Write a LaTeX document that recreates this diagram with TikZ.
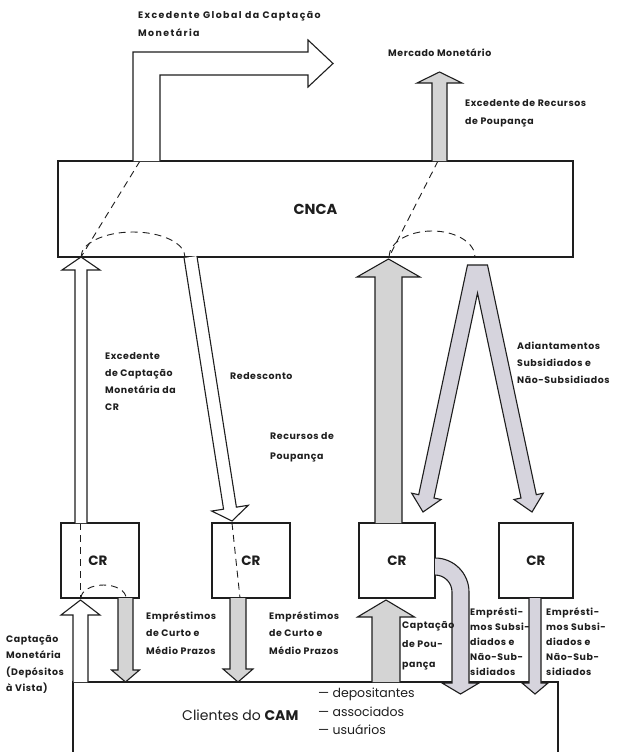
\documentclass[tikz,border=0pt]{standalone}
\usepackage{fontspec}
\setmainfont{Poppins}
\newfontfamily\lbl{Poppins}[LetterSpace=6]
\newfontfamily\lblw{Poppins}[LetterSpace=15]
\newfontfamily\hdr{Poppins}
\usetikzlibrary{calc}
\definecolor{gfill}{RGB}{214,212,221}
\definecolor{sfill}{RGB}{212,212,212}
\definecolor{ink}{RGB}{30,30,30}
\tikzset{
  blk/.style={line width=1.1pt, draw=ink, line join=miter},
  dsh/.style={line width=0.9pt, draw=ink, dash pattern=on 7pt off 5pt},
  lab/.style={font=\lbl\bfseries\fontsize{9.4}{#1}\selectfont, align=left, anchor=north west, inner sep=0pt, text=ink},
  lab/.default=17,
  labw/.style={font=\lblw\bfseries\fontsize{9.4}{#1}\selectfont, align=left, anchor=north west, inner sep=0pt, text=ink},
  labw/.default=17,
  crbox/.style={draw=ink, line width=1.1pt, minimum width=#1, minimum height=75pt, inner sep=0pt, font=\hdr\bfseries\fontsize{13.5}{15}\selectfont, text=ink},
}
% block arrow: start, tip, shaft half width, head half width, head length, fill
\newcommand\barrow[6]{%
  \path (#2) coordinate (bT) ($(#2)!#5!(#1)$) coordinate (bH);
  \path ($(bH)!#3!90:(bT)$) coordinate (bH1) ($(bH)!#3!-90:(bT)$) coordinate (bH2)
        ($(bH)!#4!90:(bT)$) coordinate (bF1) ($(bH)!#4!-90:(bT)$) coordinate (bF2)
        ($(#1)!#3!-90:(bT)$) coordinate (bS1) ($(#1)!#3!90:(bT)$) coordinate (bS2);
  \fill[#6] (bS2) -- (bH1) -- (bF1) -- (bT) -- (bF2) -- (bH2) -- (bS1) -- cycle;
  \draw[blk] (bS2) -- (bH1) -- (bF1) -- (bT) -- (bF2) -- (bH2) -- (bS1);
}
\begin{document}
\begin{tikzpicture}[x=1pt,y=-1pt]
\useasboundingbox (0,0) rectangle (616,752);
\fill[white] (0,0) rectangle (616,752);

% ---------- boxes ----------
\node[draw=ink, line width=1.1pt, minimum width=515pt, minimum height=96pt, inner sep=0pt,
      font=\hdr\bfseries\fontsize{14.5}{16}\selectfont, text=ink] (cnca) at (315.5,209) {CNCA};
\node[crbox=78pt] (cr1) at (100,560.5) {\hspace*{-4pt}CR};
\node[crbox=78pt] (cr2) at (251,560.5) {CR};
\node[crbox=76pt] (cr3) at (397,560.5) {CR};
\node[crbox=74pt] (cr4) at (536,560.5) {CR};
\draw[blk] (73,753) -- (73,682) coordinate (camTL) -- (558,682) coordinate (camTR) -- (558,753);
\node[font=\hdr\fontsize{14}{16}\selectfont, text=ink, anchor=mid west, inner sep=0pt] (cam) at (182,718) {Clientes do \textbf{CAM}};
\node[font=\hdr\fontsize{12.5}{18.5}\selectfont, text=ink, anchor=north west, inner sep=0pt, align=left] (memb) at (318,688)
  {— depositantes\\— associados\\— usuários};

% ---------- dashed construction lines ----------
\draw[dsh] (140,161) -- (81,257);
\draw[dsh] (81,257) arc[start angle=180, end angle=360, x radius=52, y radius=25];
\draw[dsh] (438,161) -- (389,257);
\draw[dsh] (389,257) arc[start angle=180, end angle=360, x radius=43, y radius=26];
\draw[dsh] (80,523) -- (80,598);
\draw[dsh] (81,598) arc[start angle=180, end angle=360, x radius=22.5, y radius=13];
\draw[dsh] (232,523) -- (240,598);

% ---------- top arrows ----------
\fill[white] (133,161) -- (133,52) -- (308,52) -- (308,40) -- (333,63.5) -- (308,87) -- (308,75) -- (160,75) -- (160,161) -- cycle;
\draw[blk] (133,161) -- (133,52) -- (308,52) -- (308,40) -- (333,63.5) -- (308,87) -- (308,75) -- (160,75) -- (160,161);
\coordinate (mmS) at (439.5,161); \coordinate (mmT) at (439.5,72);
\barrow{mmS}{mmT}{7.5pt}{22.5pt}{11pt}{sfill}

% ---------- middle arrows ----------
\coordinate (exS) at (81,523); \coordinate (exT) at (81,257);
\barrow{exS}{exT}{6pt}{19pt}{13pt}{white}
\coordinate (rdS) at (190.5,257); \coordinate (rdT) at (232,521);
\barrow{rdS}{rdT}{6.5pt}{18.5pt}{13pt}{white}
\coordinate (rpS) at (388.5,523); \coordinate (rpT) at (388.5,259);
\barrow{rpS}{rpT}{13.5pt}{31.5pt}{18pt}{sfill}
% inverted V
\fill[gfill] (467.5,265) -- (487.5,265) -- (536.3,494.7) -- (543.3,493.2) -- (532,512) -- (514.0,499.5) -- (521.0,498.0) -- (477.5,293.1) -- (434.0,498.0) -- (441.0,499.5) -- (423,512) -- (411.7,493.2) -- (418.7,494.7) -- cycle;
\draw[blk] (467.5,265) -- (487.5,265) -- (536.3,494.7) -- (543.3,493.2) -- (532,512) -- (514.0,499.5) -- (521.0,498.0) -- (477.5,293.1) -- (434.0,498.0) -- (441.0,499.5) -- (423,512) -- (411.7,493.2) -- (418.7,494.7) -- cycle;

% ---------- bottom arrows ----------
\coordinate (cmS) at (80.5,682); \coordinate (cmT) at (80.5,600);
\barrow{cmS}{cmT}{7.5pt}{19.5pt}{15pt}{white}
\coordinate (e1S) at (125.5,598); \coordinate (e1T) at (125.5,682);
\barrow{e1S}{e1T}{7.5pt}{14pt}{12pt}{sfill}
\coordinate (e2S) at (238,598); \coordinate (e2T) at (238,682);
\barrow{e2S}{e2T}{8pt}{15pt}{13pt}{sfill}
\coordinate (cpS) at (386,682); \coordinate (cpT) at (386,600);
\barrow{cpS}{cpT}{14pt}{28.5pt}{17pt}{sfill}
\coordinate (e4S) at (535,598); \coordinate (e4T) at (535,694);
\barrow{e4S}{e4T}{6pt}{13pt}{11pt}{gfill}
% curved arrow from cr3
\fill[gfill] (435,558) arc[start angle=-90, end angle=0, radius=34] -- (469,683) -- (479,683) -- (460.5,694) -- (442,683) -- (452,683) -- (452,592) arc[start angle=0, end angle=-90, radius=17] -- cycle;
\draw[blk] (435,558) arc[start angle=-90, end angle=0, radius=34] -- (469,683) -- (479,683) -- (460.5,694) -- (442,683) -- (452,683) -- (452,592) arc[start angle=0, end angle=-90, radius=17];

% ---------- labels ----------
\node[labw=18] (l1) at (138,11) {Excedente Global da Captação\\Monetária};
\node[lab] (l2) at (388,48) {Mercado Monetário};
\node[lab=18] (l3) at (465,99) {Excedente de Recursos\\de Poupança};
\node[lab=17] (l4) at (105,352) {Excedente\\de Captação\\Monetária da\\CR};
\node[lab] (l5) at (230,372) {Redesconto};
\node[lab=20] (l6) at (270,432) {Recursos de\\Poupança};
\node[lab=17] (l7) at (517,342) {Adiantamentos\\Subsidiados e\\Não-Subsidiados};
\node[lab=17.5] (l8) at (146,611) {Empréstimos\\de Curto e\\Médio Prazos};
\node[lab=17.5] (l9) at (269,611) {Empréstimos\\de Curto e\\Médio Prazos};
\node[lab=16.5] (l10) at (6,635) {Captação\\Monetária\\(Depósitos\\à Vista)};
\node[lab=19.5] (l11) at (402,621) {Captação\\de Pou-\\pança};
\node[lab=15] (l12) at (470,607) {Emprésti-\\mos Subsi-\\diados e\\Não-Sub-\\sidiados};
\node[lab=15] (l13) at (546,607) {Emprésti-\\mos Subsi-\\diados e\\Não-Sub-\\sidiados};
\end{tikzpicture}
\end{document}
